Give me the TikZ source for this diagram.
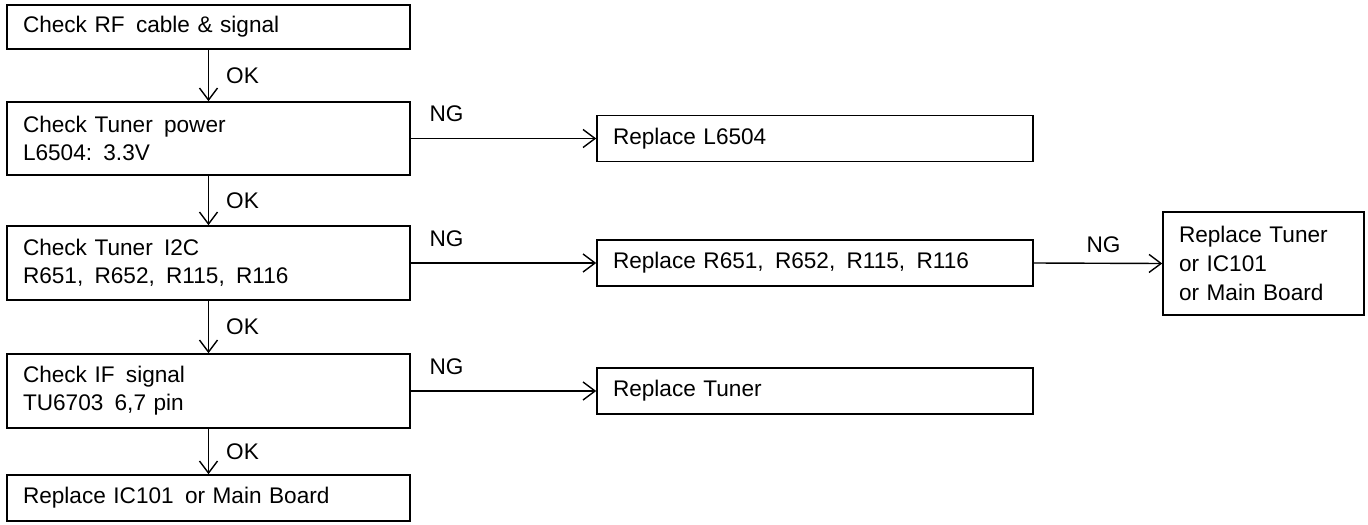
\documentclass[tikz,border=0pt]{standalone}
\usepackage{fontspec}
\setmainfont{Liberation Sans}
\usetikzlibrary{arrows.meta}
\begin{document}
\begin{tikzpicture}[x=0.5pt,y=-0.5pt,
  box/.style={draw, line width=0.8pt, inner xsep=8pt, inner ysep=0pt, align=left,
    font=\fontsize{11.3}{13.9}\selectfont, anchor=center},
  leftbox/.style={box, text width=185.5pt},
  rightbox/.style={box, text width=202pt, minimum height=23pt},
  arr/.style={line width=0.7pt, -{Straight Barb[length=6pt,width=9pt,line width=0.7pt]}},
  lbl/.style={inner sep=0pt, font=\fontsize{11.3}{14}\selectfont},
]
\useasboundingbox (0,0) rectangle (1368,524);

\node[leftbox, minimum height=22pt] (b1) at (208.5,27) {Check RF\, cable \& signal};
\node[leftbox, minimum height=36.5pt] (b2) at (208.5,138.5) {Check Tuner\, power\\L6504: 3.3V};
\node[leftbox, minimum height=37pt] (b3) at (208.5,263) {Check Tuner\, I2C\\R651,\, R652,\, R115,\, R116};
\node[leftbox, minimum height=37pt] (b4) at (208.5,391) {Check IF\, signal\\TU6703\, 6,7 pin};
\node[leftbox, minimum height=23pt] (b5) at (208.5,498) {Replace IC101\, or Main Board};

\node[rightbox] (r1) at (815,138.5) {Replace L6504};
\node[rightbox] (r2) at (815,263) {Replace R651,\, R652,\, R115,\, R116};
\node[rightbox] (r3) at (815,391) {Replace Tuner};

\node[box, text width=84.5pt, minimum height=51.5pt, font=\fontsize{11.3}{14.5}\selectfont] (f) at (1263.5,263.5) {Replace Tuner\\or IC101\\or Main Board};

\draw[arr] (b1) -- node[lbl, right, xshift=8.5pt] {OK} (b2);
\draw[arr] (b2) -- node[lbl, right, xshift=8.5pt] {OK} (b3);
\draw[arr] (b3) -- node[lbl, right, xshift=8.5pt] {OK} (b4);
\draw[arr] (b4) -- node[lbl, right, xshift=8.5pt] {OK} (b5);

\draw[arr] (b2.east) -- node[lbl, pos=0, anchor=south west, xshift=9pt, yshift=8pt] {NG} (r1.west);
\draw[arr] (b3.east) -- node[lbl, pos=0, anchor=south west, xshift=9pt, yshift=8pt] {NG} (r2.west);
\draw[arr] (b4.east) -- node[lbl, pos=0, anchor=south west, xshift=9pt, yshift=8pt] {NG} (r3.west);
\draw[arr] (r2.east) -- node[lbl, pos=0, anchor=south west, xshift=26pt, yshift=5pt] {NG} (f.west);
\end{tikzpicture}
\end{document}
